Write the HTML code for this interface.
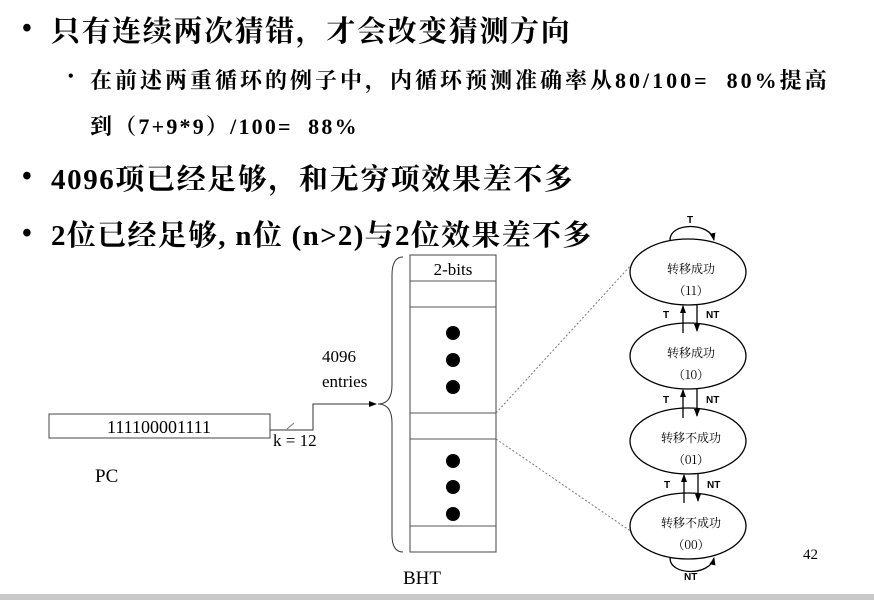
<!DOCTYPE html>
<html><head><meta charset="utf-8"><style>
body{margin:0;width:874px;height:600px;background:#fff;overflow:hidden;position:relative;font-family:"Liberation Serif","Noto Serif CJK SC","Noto Sans CJK SC",serif;}
.t{position:absolute;white-space:nowrap;color:#000;font-weight:bold;}
.b{position:absolute;font-size:28px;font-weight:bold;left:22px;}
</style></head><body>
<div class="b" style="top:13px">•</div>
<div class="t" style="left:51px;top:9px;font-size:29px;letter-spacing:1.6px;">只有连续两次猜错，才会改变猜测方向</div>
<div class="b" style="top:68px;left:68px;font-size:16px">•</div>
<div class="t" style="left:90px;top:64px;font-size:22px;letter-spacing:3px;">在前述两重循环的例子中，内循环预测准确率从80/100=&nbsp; 80%提高</div>
<div class="t" style="left:90px;top:110px;font-size:22px;letter-spacing:2.2px;">到（7+9*9）/100=&nbsp; 88%</div>
<div class="b" style="top:161px">•</div>
<div class="t" style="left:51px;top:157px;font-size:29px;letter-spacing:1.6px;">4096项已经足够，和无穷项效果差不多</div>
<div class="b" style="top:218px">•</div>
<div class="t" style="left:51px;top:213px;font-size:29px;letter-spacing:1.3px;">2位已经足够, n位 (n&gt;2)与2位效果差不多</div>
<svg width="874" height="600" style="position:absolute;left:0;top:0" font-family="Liberation Serif, serif">
<defs><marker id="a" markerWidth="8" markerHeight="8" refX="7" refY="4" orient="auto" markerUnits="userSpaceOnUse"><path d="M0,1 L8,4 L0,7z" fill="#000"/></marker></defs>
<rect x="49" y="414" width="221" height="24" fill="none" stroke="#444"/>
<text x="159" y="433" font-size="18" text-anchor="middle">111100001111</text>
<text x="95" y="482" font-size="19">PC</text>
<polyline points="270,430 313,430 313,404 376,404" fill="none" stroke="#333" marker-end="url(#a)"/>
<line x1="287" y1="429" x2="294" y2="423" stroke="#777"/>
<text x="273" y="446" font-size="17">k = 12</text>
<text x="322" y="362" font-size="17">4096</text>
<text x="322" y="387" font-size="17">entries</text>
<path d="M403,257 Q392,257 392,275 L392,385 Q392,404 378,404 Q392,404 392,423 L392,535 Q392,552 403,552" fill="none" stroke="#333"/>
<rect x="410" y="255" width="86" height="297" fill="none" stroke="#444"/>
<g stroke="#555"><line x1="410" y1="281" x2="496" y2="281"/><line x1="410" y1="307" x2="496" y2="307"/><line x1="410" y1="413" x2="496" y2="413"/><line x1="410" y1="439" x2="496" y2="439"/><line x1="410" y1="526" x2="496" y2="526"/></g>
<text x="453" y="275" font-size="17" text-anchor="middle">2-bits</text>
<g fill="#000"><circle cx="453" cy="333" r="7"/><circle cx="453" cy="360" r="7"/><circle cx="453" cy="387" r="7"/><circle cx="453" cy="461" r="7"/><circle cx="453" cy="487" r="7"/><circle cx="453" cy="514" r="7"/></g>
<text x="422" y="584" font-size="19" text-anchor="middle">BHT</text>
<line x1="496" y1="413" x2="632" y2="264" stroke="#777" stroke-dasharray="2,2"/>
<line x1="496" y1="439" x2="632" y2="532" stroke="#777" stroke-dasharray="2,2"/>
<g fill="none" stroke="#000" stroke-width="1.3">
<ellipse cx="688" cy="272" rx="58" ry="33"/><ellipse cx="688" cy="356" rx="58" ry="33"/><ellipse cx="688" cy="441" rx="58" ry="33"/><ellipse cx="688" cy="526" rx="58" ry="33"/>
<path d="M670,240 C670,222 710,222 714,240" marker-end="url(#a)"/>
<path d="M670,558 C670,576 710,576 714,558" marker-end="url(#a)"/>
<line x1="683" y1="333" x2="683" y2="306" marker-end="url(#a)"/><line x1="697" y1="304" x2="697" y2="331" marker-end="url(#a)"/>
<line x1="683" y1="418" x2="683" y2="390" marker-end="url(#a)"/><line x1="697" y1="389" x2="697" y2="416" marker-end="url(#a)"/>
<line x1="684" y1="503" x2="684" y2="475" marker-end="url(#a)"/><line x1="698" y1="474" x2="698" y2="501" marker-end="url(#a)"/>
</g>
<g font-family="Liberation Sans, sans-serif" font-size="10" font-weight="bold">
<text x="687" y="223">T</text><text x="684" y="580">NT</text>
<text x="663" y="318">T</text><text x="706" y="318">NT</text>
<text x="663" y="403">T</text><text x="706" y="403">NT</text>
<text x="664" y="488">T</text><text x="707" y="488">NT</text>
</g>
<g font-family="Noto Serif CJK SC, serif" font-size="12" text-anchor="middle">
<text x="691" y="273">转移成功</text><text x="691" y="295">（11）</text>
<text x="691" y="357">转移成功</text><text x="691" y="379">（10）</text>
<text x="691" y="442">转移不成功</text><text x="691" y="464">（01）</text>
<text x="691" y="527">转移不成功</text><text x="691" y="549">（00）</text>
</g>
<text x="803" y="559" font-size="15">42</text>
<rect x="0" y="594" width="874" height="6" fill="#c8c8c8"/>
</svg>
</body></html>
